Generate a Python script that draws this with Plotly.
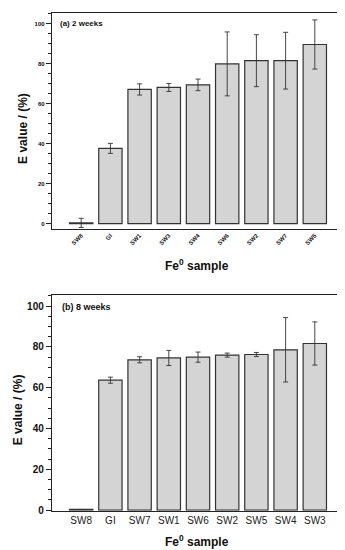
import plotly.graph_objects as go

# Panel (a) 2 weeks
cats_a = ["SW8", "GI", "SW1", "SW3", "SW4", "SW6", "SW2", "SW7", "SW5"]
vals_a = [0.4, 37.7, 67.2, 68.2, 69.5, 80.0, 81.6, 81.6, 89.7]
errs_a = [2.3, 2.5, 2.8, 2.0, 2.9, 16.0, 13.0, 14.2, 12.3]

# Panel (b) 8 weeks
cats_b = ["SW8", "GI", "SW7", "SW1", "SW6", "SW2", "SW5", "SW4", "SW3"]
vals_b = [0.3, 63.7, 73.7, 74.6, 75.0, 76.0, 76.3, 78.6, 81.7]
errs_b = [0.0, 1.5, 1.5, 3.7, 2.5, 1.0, 1.0, 15.8, 10.6]

yticks = [0, 20, 40, 60, 80, 100]

FONT = "Arial, Liberation Sans, sans-serif"
BAR_FILL = "#d4d4d4"
EDGE = "#333333"

fig = go.Figure()
fig.add_trace(go.Bar(
    x=cats_a, y=vals_a, xaxis="x", yaxis="y",
    marker=dict(color=BAR_FILL, line=dict(color=EDGE, width=1.2)),
    error_y=dict(type="data", array=errs_a, color="#333333", thickness=0.9, width=2.5),
    showlegend=False,
))
fig.add_trace(go.Bar(
    x=cats_b, y=vals_b, xaxis="x2", yaxis="y2",
    marker=dict(color=BAR_FILL, line=dict(color=EDGE, width=1.2)),
    error_y=dict(type="data", array=errs_b, color="#333333", thickness=0.9, width=2.5),
    showlegend=False,
))

W, H = 345, 550
def fx(px):
    return px / W
def fy(py):
    return 1 - py / H

xdom = [fx(44), fx(336)]
common_axis = dict(showline=True, linecolor="#222222", linewidth=1.4, mirror=True,
                   showgrid=False, zeroline=False)

fig.update_layout(
    width=W, height=H,
    margin=dict(l=0, r=0, t=0, b=0),
    paper_bgcolor="white", plot_bgcolor="white",
    bargap=0.2,
    font=dict(family=FONT, color="#111111"),
    xaxis=dict(domain=xdom, anchor="y", type="category",
               categoryorder="array", categoryarray=cats_a,
               range=[-1, 9], ticks="", tickangle=-45,
               tickfont=dict(size=6, weight="bold", family=FONT),
               **common_axis),
    yaxis=dict(domain=[fy(222.7), fy(5)], anchor="x", range=[-2.5, 105.5],
               tickvals=yticks, ticks="outside", ticklen=5, tickwidth=1,
               tickcolor="#222222",
               minor=dict(tick0=0, dtick=5, ticks="outside", ticklen=3,
                          tickwidth=1, tickcolor="#222222"),
               tickfont=dict(size=6, weight="bold", family=FONT),
               **common_axis),
    xaxis2=dict(domain=xdom, anchor="y2", type="category",
                categoryorder="array", categoryarray=cats_b,
                range=[-1, 9], ticks="",
                tickfont=dict(size=10, family=FONT, color="#222222"),
                **common_axis),
    yaxis2=dict(domain=[fy(507.3), fy(290)], anchor="x2", range=[-0.3, 105.3],
                tickvals=yticks, ticks="outside", ticklen=5, tickwidth=1,
                tickcolor="#222222",
                minor=dict(tick0=0, dtick=5, ticks="outside", ticklen=3,
                           tickwidth=1, tickcolor="#222222"),
                tickfont=dict(size=10, weight="bold", family=FONT),
                **common_axis),
)

ann = [
    dict(text="(a) 2 weeks", x=fx(50), y=fy(16), xanchor="left", yanchor="middle",
         font=dict(size=8, weight="bold")),
    dict(text="(b) 8 weeks", x=fx(52), y=fy(302), xanchor="left", yanchor="middle",
         font=dict(size=9, weight="bold")),
    dict(text="Fe<sup>0</sup> sample", x=fx(189), y=fy(259), xanchor="center", yanchor="middle",
         font=dict(size=12, weight="bold")),
    dict(text="Fe<sup>0</sup> sample", x=fx(189), y=fy(538), xanchor="center", yanchor="middle",
         font=dict(size=12, weight="bold")),
    dict(text="E value / (%)", x=fx(15), y=fy(122), xanchor="center", yanchor="middle",
         textangle=-90, font=dict(size=12, weight="bold")),
    dict(text="E value / (%)", x=fx(10), y=fy(406), xanchor="center", yanchor="middle",
         textangle=-90, font=dict(size=12, weight="bold")),
]
for a in ann:
    a.update(xref="paper", yref="paper", showarrow=False)
fig.update_layout(annotations=ann)

fig.write_html("out.html")
